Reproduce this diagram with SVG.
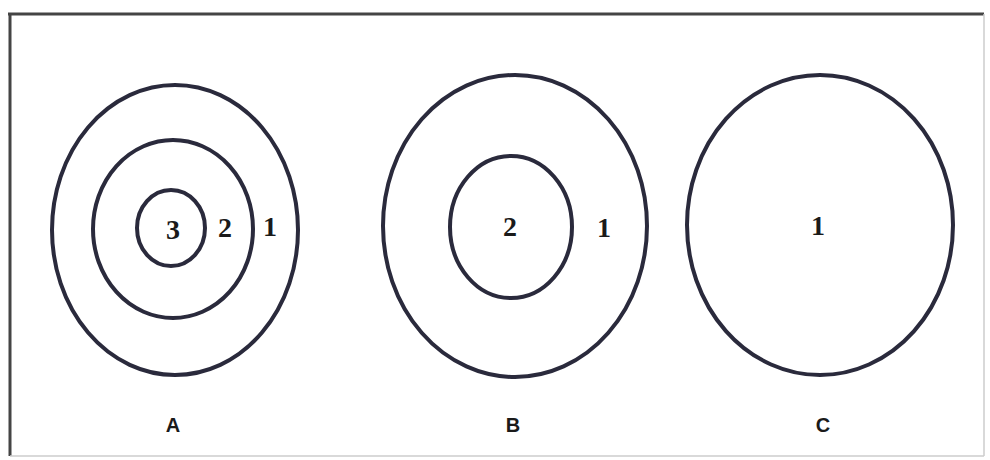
<svg xmlns="http://www.w3.org/2000/svg" width="990" height="460" viewBox="0 0 990 460">
<style>
.ring{fill:none;stroke:#2a2a3c;stroke-width:4}
.num{font-family:"Liberation Serif",serif;font-weight:bold;font-size:28px;fill:#1a1a1a;text-anchor:middle;dominant-baseline:central}
.lab{font-family:"Liberation Sans",sans-serif;font-weight:bold;font-size:20px;fill:#1a1a1a;text-anchor:middle}
</style>
<rect width="990" height="460" fill="#ffffff"/>
<g id="frame">
<line x1="8" y1="14" x2="984" y2="14" stroke="#444" stroke-width="3"/>
<line x1="10" y1="13" x2="10" y2="456" stroke="#444" stroke-width="3"/>
<line x1="984" y1="14" x2="984" y2="456" stroke="#ccc" stroke-width="1.5"/>
<line x1="10" y1="456" x2="984" y2="456" stroke="#ccc" stroke-width="1.5"/>
</g>
<g id="nodeA">
<ellipse class="ring" cx="175" cy="230" rx="123" ry="145"/>
<ellipse class="ring" cx="173" cy="229" rx="80" ry="89"/>
<ellipse class="ring" cx="171" cy="228" rx="34" ry="38"/>
<text class="num" x="173" y="229">3</text>
<text class="num" x="225" y="227">2</text>
<text class="num" x="270" y="226">1</text>
<text class="lab" x="173" y="432">A</text>
</g>
<g id="nodeB">
<ellipse class="ring" cx="515" cy="226" rx="132" ry="151"/>
<ellipse class="ring" cx="511" cy="227" rx="61" ry="71"/>
<text class="num" x="510" y="226">2</text>
<text class="num" x="604" y="227">1</text>
<text class="lab" x="513" y="432">B</text>
</g>
<g id="nodeC">
<ellipse class="ring" cx="820" cy="225" rx="133" ry="150"/>
<text class="num" x="818" y="225">1</text>
<text class="lab" x="823" y="432">C</text>
</g>
<g id="connectors"/>
</svg>
